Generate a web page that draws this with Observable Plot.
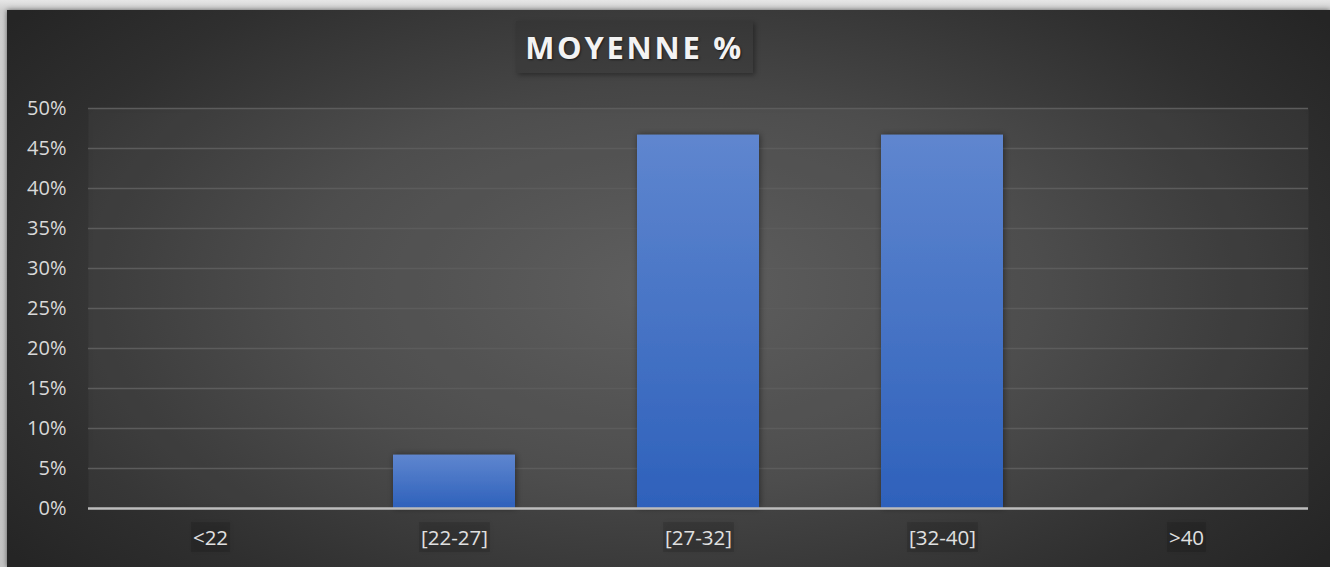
<!DOCTYPE html>
<html><head><meta charset="utf-8">
<script src="https://cdn.jsdelivr.net/npm/d3@7"></script>
<script src="https://cdn.jsdelivr.net/npm/@observablehq/plot@0.6"></script>
<style>
html,body{margin:0;padding:0;}
body{width:1330px;height:567px;overflow:hidden;position:relative;background:linear-gradient(180deg,#e6e6e6 0px,#cfcfcf 10px,#c4c4c4 100%);font-family:"Open Sans",sans-serif;}
#card{position:absolute;left:7px;top:10px;width:1323px;height:557px;
 background:radial-gradient(ellipse 62% 80% at 50% 50%, #595959 0%, #464646 45%, #2f2f2f 80%, #252525 100%);
 box-shadow:0 0 5px rgba(0,0,0,0.55);}
#title{position:absolute;left:509px;top:11px;width:237px;height:52px;background:rgba(0,0,0,0.08);
 box-shadow:2px 2px 5px rgba(0,0,0,0.35);color:#f3f3f3;font-weight:700;font-size:31px;letter-spacing:2.7px;
 display:flex;align-items:center;justify-content:center;text-shadow:1px 1px 2px rgba(0,0,0,0.55);}
#chart{position:absolute;left:0;top:80px;}
</style></head>
<body>
<div id="card">
  <div id="title">MOYENNE %</div>
  <div id="chart"></div>
</div>
<script>
const categories = ["<22", "[22-27]", "[27-32]", "[32-40]", ">40"];
const values = [0, 0.0667, 0.4667, 0.4667, 0];
const yTicks = [0, 0.05, 0.10, 0.15, 0.20, 0.25, 0.30, 0.35, 0.40, 0.45, 0.50];
const yTickLabels = ["0%", "5%", "10%", "15%", "20%", "25%", "30%", "35%", "40%", "45%", "50%"];

const data = categories.map((c, i) => ({cat: c, val: values[i]}));

const defsMark = () => {
  const ns = "http://www.w3.org/2000/svg";
  const defs = document.createElementNS(ns, "defs");
  defs.innerHTML = `
    <linearGradient id="barGrad" x1="0" y1="0" x2="0" y2="1">
      <stop offset="0" stop-color="#5f86cf"/>
      <stop offset="1" stop-color="#2e61bb"/>
    </linearGradient>
    <filter id="shadow" x="-20%" y="-20%" width="140%" height="140%">
      <feDropShadow dx="1" dy="0" stdDeviation="3" flood-color="#000" flood-opacity="0.45"/>
    </filter>
    <filter id="panelShadow" x="-5%" y="-5%" width="110%" height="110%">
      <feDropShadow dx="0" dy="0" stdDeviation="5" flood-color="#000" flood-opacity="0.5"/>
    </filter>`;
  return defs;
};

const chart = Plot.plot({
  width: 1323,
  height: 477,
  marginLeft: 81,
  marginRight: 22,
  marginTop: 18,
  marginBottom: 59,
  style: {background: "transparent", fontFamily: "'Open Sans', sans-serif", fontSize: "20px", color: "#d9d9d9"},
  x: {domain: categories, paddingInner: 0.5, paddingOuter: 0.25, label: null},
  y: {domain: [0, 0.5], label: null},
  marks: [
    defsMark,
    Plot.frame({fill: "#ffffff", fillOpacity: 0.03, stroke: null}),
    Plot.ruleY(yTicks.filter(d => d > 0), {stroke: "#5c5c5c", strokeWidth: 1.5}),
    Plot.barY(data, {x: "cat", y: "val", fill: "url(#barGrad)"}),
    Plot.ruleY([0], {stroke: "#bcbcbc", strokeWidth: 2.5}),
    Plot.axisY({ticks: yTicks, tickFormat: d => yTickLabels[yTicks.indexOf(d)], tickSize: 0, tickPadding: 22, fill: "#d9d9d9", fontSize: 20}),
    Plot.axisX({tickSize: 0, tickPadding: 22, fill: "#e0e0e0", fontSize: 20.5})
  ]
});
document.getElementById("chart").appendChild(chart);

// panel and bar shadows
d3.select(chart).selectAll("[aria-label='frame']").attr("filter", "url(#panelShadow)");
d3.select(chart).selectAll("g[aria-label='bar'] rect").attr("filter", "url(#shadow)");

// label boxes behind x tick labels
d3.select(chart).selectAll("g[aria-label='x-axis tick label'] text").each(function() {
  const b = this.getBBox();
  const r = document.createElementNS("http://www.w3.org/2000/svg", "rect");
  r.setAttribute("x", b.x - 2);
  r.setAttribute("y", b.y - 1);
  r.setAttribute("width", b.width + 4);
  r.setAttribute("height", b.height + 2);
  r.setAttribute("fill", "rgba(0,0,0,0.13)");
  r.setAttribute("filter", "url(#shadow)");
  const t = this.getAttribute("transform");
  if (t) r.setAttribute("transform", t);
  this.parentNode.insertBefore(r, this);
});
</script>
</body></html>
